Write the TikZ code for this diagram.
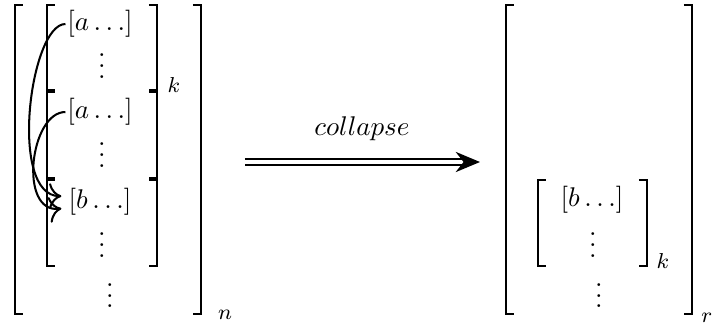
\documentclass[tikz,border=0pt]{standalone}
\usetikzlibrary{arrows.meta}

% one pair of square brackets: left x, right x, top y, bottom y
\newcommand{\matbrk}[4]{%
  \draw[delim] (#1+8,#3) -- (#1,#3) -- (#1,#4) -- (#1+8,#4);
  \draw[delim] (#2-8,#3) -- (#2,#3) -- (#2,#4) -- (#2-8,#4);
}
% vertical dots without the blank space on top
\newcommand{\vdotsbox}{\vbox{\baselineskip4pt\lineskiplimit0pt\hbox{.}\hbox{.}\hbox{.}}}

\begin{document}
\begin{tikzpicture}[x=0.013cm, y=-0.013cm,
  delim/.style={line width=0.75pt},
  entry/.style={inner sep=0.5pt},
  dotsnode/.style={inner sep=0pt, anchor=base},
  sub/.style={inner sep=0pt, font=\footnotesize},
  move/.style={-{To[scale=1.4]}, line width=0.75pt, shorten >=2pt},
  implies/.style={-{Stealth[length=9pt, width=7.5pt]}, double, double distance=1.2pt, line width=0.7pt}
]
\useasboundingbox (0,0) rectangle (713,329);

% Left: outer matrix and its blocks
\matbrk{15}{201}{5}{314}
\matbrk{47}{157}{5}{90}
\matbrk{47}{157}{92}{178}
\matbrk{47}{157}{180}{266}

\node[entry] (a1) at (100,24) {$[a\dots]$};
\node[dotsnode] (v1) at (102,78) {\vdotsbox};
\node[entry] (a2) at (100,112) {$[a\dots]$};
\node[dotsnode] (v2) at (102,167) {\vdotsbox};
\node[entry] (b1) at (100,202) {$[b\dots]$};
\node[dotsnode] (v3) at (102,257) {\vdotsbox};
\node[dotsnode] (v4) at (110,308) {\vdotsbox};
\node[sub] (k1) at (174,85) {$k$};
\node[sub] (n) at (225,315) {$n$};

% Moves of the a blocks onto b
\draw[move] (a1.west) .. controls (30,24) and (8,196) .. (b1.170);
\draw[move] (a2.west) .. controls (30,112) and (18,214) .. (b1.190);

% Collapse arrow
\coordinate (cs) at (245,162);
\coordinate (ce) at (480,162);
\draw[implies] (cs) -- (ce);
\node (lbl) at (362,129) {$collapse$};

% Right: result
\matbrk{506}{692}{5}{314}
\matbrk{538}{647}{180}{266}

\node[entry] (b2) at (592,200) {$[b\dots]$};
\node[dotsnode] (v5) at (593,257) {\vdotsbox};
\node[dotsnode] (v6) at (599,308) {\vdotsbox};
\node[sub] (k2) at (663,261) {$k$};
\node[sub] (r) at (707,318) {$r$};

\end{tikzpicture}
\end{document}
